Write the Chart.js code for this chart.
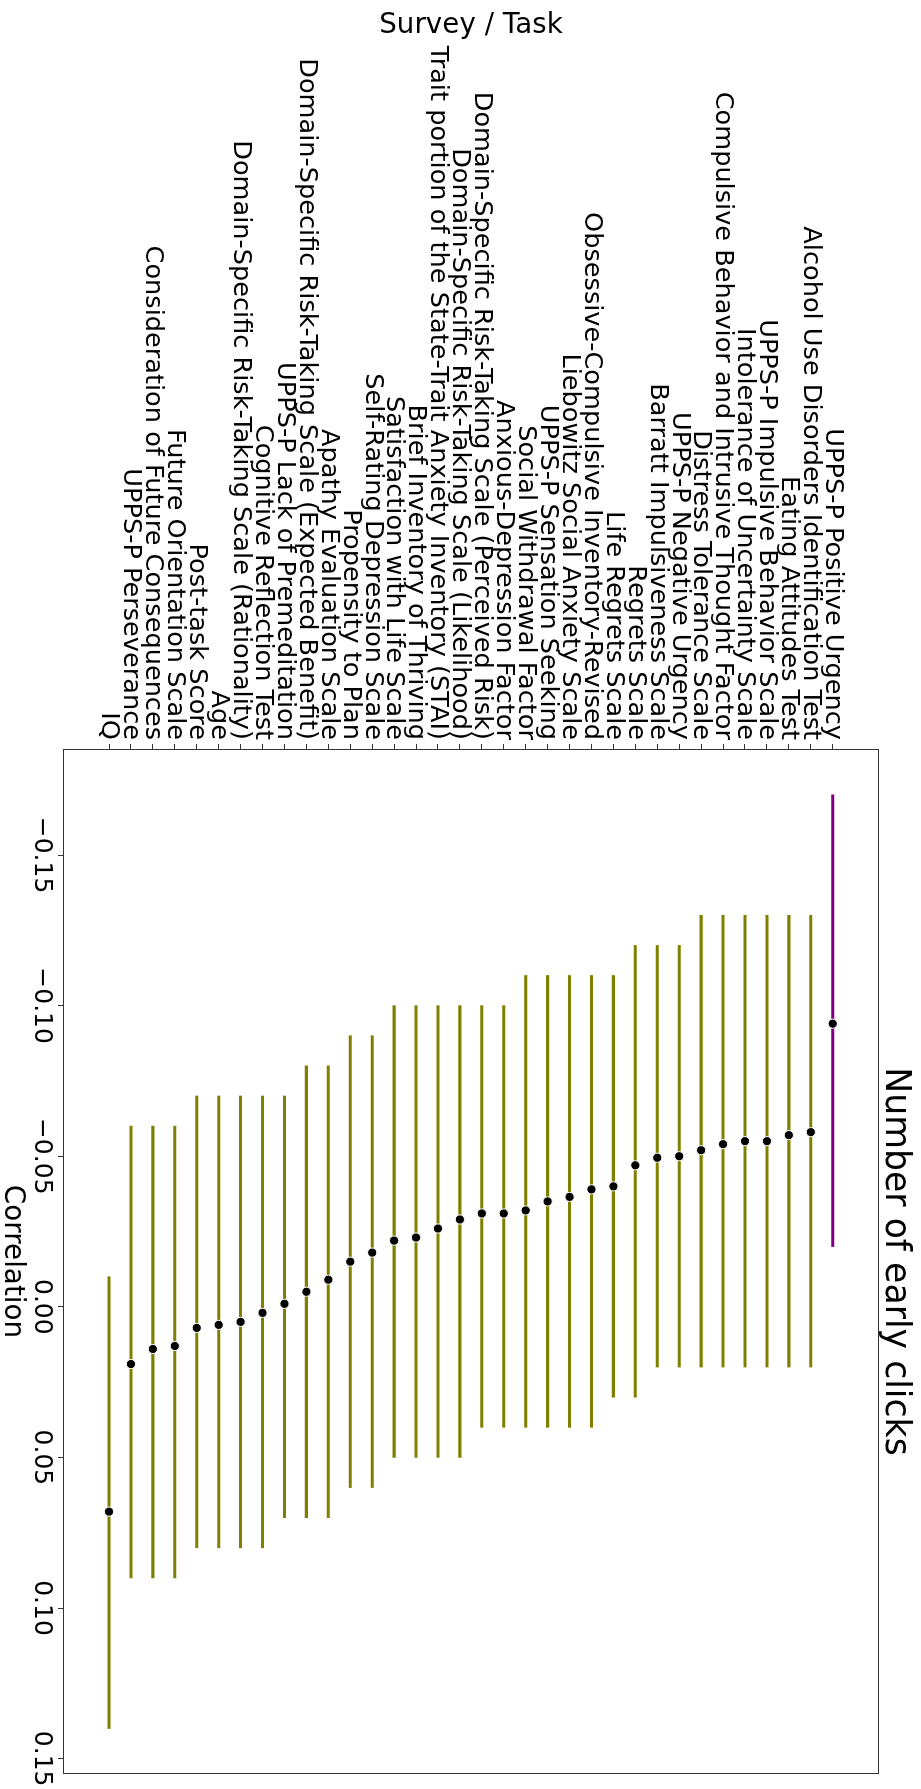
<!DOCTYPE html>
<html>
<head>
<meta charset="utf-8">
<title>Number of early clicks</title>
<script src="https://cdn.jsdelivr.net/npm/chart.js@4.4.1/dist/chart.umd.min.js"></script>
<style>
  html, body { margin: 0; padding: 0; background: #fff; }
  #page { position: relative; width: 921px; height: 1789px; overflow: hidden; background: #fff; }
  /* the chart is laid out landscape and turned a quarter clockwise onto the portrait page */
  #c { position: absolute; left: 0; top: 0; width: 1789px; height: 921px;
       transform-origin: 0 0; transform: translate(921px, 0) rotate(90deg); }
</style>
</head>
<body>
<div id="page"><canvas id="c" width="1789" height="921"></canvas></div>
<script>
// Survey / task measures, in plotted order
const categories = [
  'UPPS-P Positive Urgency',
  'Alcohol Use Disorders Identification Test',
  'Eating Attitudes Test',
  'UPPS-P Impulsive Behavior Scale',
  'Intolerance of Uncertainty Scale',
  'Compulsive Behavior and Intrusive Thought Factor',
  'Distress Tolerance Scale',
  'UPPS-P Negative Urgency',
  'Barratt Impulsiveness Scale',
  'Regrets Scale',
  'Life Regrets Scale',
  'Obsessive-Compulsive Inventory-Revised',
  'Liebowitz Social Anxiety Scale',
  'UPPS-P Sensation Seeking',
  'Social Withdrawal Factor',
  'Anxious-Depression Factor',
  'Domain-Specific Risk-Taking Scale (Perceived Risk)',
  'Domain-Specific Risk-Taking Scale (Likelihood)',
  'Trait portion of the State-Trait Anxiety Inventory (STAI)',
  'Brief Inventory of Thriving',
  'Satisfaction with Life Scale',
  'Self-Rating Depression Scale',
  'Propensity to Plan',
  'Apathy Evaluation Scale',
  'Domain-Specific Risk-Taking Scale (Expected Benefit)',
  'UPPS-P Lack of Premeditation',
  'Cognitive Reflection Test',
  'Domain-Specific Risk-Taking Scale (Rationality)',
  'Age',
  'Post-task Score',
  'Future Orientation Scale',
  'Consideration of Future Consequences',
  'UPPS-P Perseverance',
  'IQ'
];

// correlation with the number of early clicks
const correlation = [
  -0.094, -0.058, -0.057, -0.055, -0.055, -0.054, -0.052, -0.050, -0.0495, -0.047,
  -0.040, -0.039, -0.0365, -0.035, -0.032, -0.031, -0.031, -0.029, -0.026, -0.023,
  -0.022, -0.018, -0.015, -0.009, -0.005, -0.001, 0.002, 0.005, 0.006, 0.007,
  0.013, 0.014, 0.019, 0.068
];

// confidence interval bounds
const ciLower = [
  -0.17, -0.13, -0.13, -0.13, -0.13, -0.13, -0.13, -0.12, -0.12, -0.12,
  -0.11, -0.11, -0.11, -0.11, -0.11, -0.10, -0.10, -0.10, -0.10, -0.10,
  -0.10, -0.09, -0.09, -0.08, -0.08, -0.07, -0.07, -0.07, -0.07, -0.07,
  -0.06, -0.06, -0.06, -0.01
];
const ciUpper = [
  -0.02, 0.02, 0.02, 0.02, 0.02, 0.02, 0.02, 0.02, 0.02, 0.03,
  0.03, 0.04, 0.04, 0.04, 0.04, 0.04, 0.04, 0.05, 0.05, 0.05,
  0.05, 0.06, 0.06, 0.07, 0.07, 0.07, 0.08, 0.08, 0.08, 0.08,
  0.09, 0.09, 0.09, 0.14
];

// highlighted measure
const highlighted = ['UPPS-P Positive Urgency'];

const correlationTicks = [-0.15, -0.10, -0.05, 0.00, 0.05, 0.10, 0.15];

const chartTitle = 'Number of early clicks';
const xAxisTitle = 'Correlation';
const yAxisTitle = 'Survey / Task';

const OLIVE = '#808000';
const PURPLE = '#800080';
const FONT = "'DejaVu Sans', sans-serif";

const fmtTick = v => (v < -1e-9 ? '\u2212' : '') + Math.abs(v).toFixed(2);

// frame around the plot plus the title and axis titles
const frameAndTitles = {
  id: 'frameAndTitles',
  beforeDatasetsDraw(chart) {
    const { ctx, chartArea: a } = chart;
    ctx.save();
    ctx.strokeStyle = '#333';
    ctx.lineWidth = 1;
    ctx.strokeRect(a.left + 0.5, a.top + 0.5, a.right - a.left - 1, a.bottom - a.top - 1);
    ctx.restore();
  },
  afterDraw(chart) {
    const { ctx, chartArea: a } = chart;
    const cx = (a.left + a.right) / 2;
    const cy = (a.top + a.bottom) / 2;
    ctx.save();
    ctx.fillStyle = '#000';
    ctx.textAlign = 'center';
    ctx.textBaseline = 'alphabetic';
    ctx.font = '34.7px ' + FONT;
    ctx.fillText(chartTitle, cx, 35);
    ctx.font = '27.8px ' + FONT;
    ctx.fillText(xAxisTitle, cx, 916);
    ctx.translate(33, cy);
    ctx.rotate(-Math.PI / 2);
    ctx.fillText(yAxisTitle, 0, 0);
    ctx.restore();
  }
};

const tickGrid = {
  display: true,
  drawOnChartArea: false,
  drawTicks: true,
  offset: false,
  tickLength: 5,
  color: '#333',
  lineWidth: 1
};

new Chart(document.getElementById('c'), {
  type: 'bar',
  data: {
    datasets: [
      {
        type: 'scatter',
        indexAxis: 'x',
        order: 0,
        data: categories.map((c, i) => ({ x: correlation[i], y: i })),
        pointRadius: 4.6,
        pointBorderWidth: 1,
        pointBackgroundColor: '#000',
        pointBorderColor: '#fff',
        showLine: false
      },
      {
        type: 'bar',
        indexAxis: 'y',
        order: 1,
        data: categories.map((c, i) => ({ x: [ciLower[i], ciUpper[i]], y: i })),
        backgroundColor: categories.map(c => highlighted.includes(c) ? PURPLE : OLIVE),
        borderWidth: 0,
        barThickness: 2.4
      }
    ]
  },
  options: {
    responsive: false,
    devicePixelRatio: 1,
    animation: false,
    indexAxis: 'y',
    layout: { padding: { top: 42, right: 15, bottom: 0, left: 0 } },
    plugins: {
      legend: { display: false },
      tooltip: { enabled: false },
      title: { display: false }
    },
    scales: {
      x: {
        type: 'linear',
        position: 'bottom',
        offset: false,
        min: -0.1852,
        max: 0.1551,
        afterBuildTicks: s => { s.ticks = correlationTicks.map(v => ({ value: v })); },
        afterFit: s => { s.height = 63; },
        grid: tickGrid,
        border: { display: false },
        ticks: {
          autoSkip: false,
          maxRotation: 0,
          padding: 1,
          color: '#000',
          font: { family: FONT, size: 25 },
          callback: v => fmtTick(v)
        }
      },
      y: {
        type: 'linear',
        position: 'left',
        offset: false,
        reverse: true,
        min: -2.111,
        max: 35.098,
        afterBuildTicks: s => { s.ticks = categories.map((c, i) => ({ value: i })); },
        afterFit: s => { s.width = 749; },
        grid: tickGrid,
        border: { display: false },
        ticks: {
          autoSkip: false,
          padding: 4,
          color: '#000',
          font: { family: FONT, size: 25.6 },
          callback: v => categories[v]
        }
      }
    }
  },
  plugins: [frameAndTitles]
});
</script>
</body>
</html>
